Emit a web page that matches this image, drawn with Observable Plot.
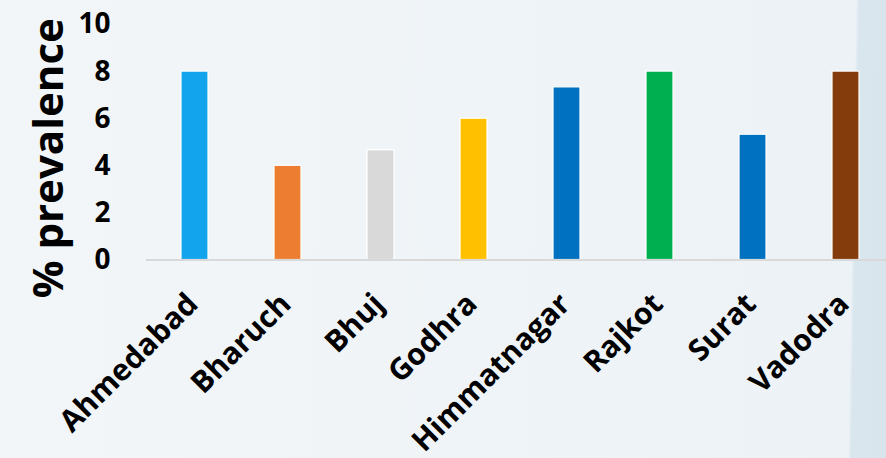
<!DOCTYPE html>
<html><head><meta charset="utf-8">
<script src="https://cdn.jsdelivr.net/npm/d3@7"></script>
<script src="https://cdn.jsdelivr.net/npm/@observablehq/plot@0.6"></script>
<style>
html,body{margin:0;padding:0;width:886px;height:458px;overflow:hidden;}
body{background: linear-gradient(91deg, #f2f6f9 0px, #edf2f6 856px, #d9e6ee 859px, #d8e5ed 893px);}
#chart svg{display:block;}
</style></head><body><div id="chart"></div>
<script>
const cities = ["Ahmedabad", "Bharuch", "Bhuj", "Godhra", "Himmatnagar", "Rajkot", "Surat", "Vadodra"];
const prevalence = [8, 4, 4.66, 6, 7.33, 8, 5.32, 8];
const barColors = ["#12A4EC", "#ED7D31", "#D9D9D9", "#FFC000", "#0070C0", "#00B050", "#0070C0", "#843C0C"];
const yTicks = [0, 2, 4, 6, 8, 10];
const yTitle = "% prevalence";

const data = cities.map((c, i) => ({city: c, value: prevalence[i]}));

const plot = Plot.plot({
  width: 886, height: 458,
  marginTop: 24, marginBottom: 198.5, marginLeft: 146, marginRight: 0,
  style: {background: "transparent", fontFamily: "'Open Sans', sans-serif", overflow: "visible", color: "#000"},
  x: {domain: cities, range: [146, 895], paddingInner: 0.708, paddingOuter: 0.356, label: null},
  y: {domain: [0, 10], label: null},
  color: {domain: cities, range: barColors},
  marks: [
    Plot.barY(data, {x: "city", y: "value", fill: "city", stroke: "white", strokeWidth: 1.2}),
    Plot.ruleY([0], {stroke: "#d9d9d9", strokeWidth: 2}),
    Plot.axisY({ticks: yTicks, tickSize: 0, tickPadding: 36, fontSize: 28, fontWeight: "bold", label: null}),
    Plot.axisX({tickSize: 0, tickPadding: 39, tickRotate: -45, dx: -2, fontSize: 30, fontWeight: "bold", label: null}),
    Plot.text([yTitle], {frameAnchor: "left", textAnchor: "middle", rotate: -90, dx: -97, dy: 16, fontSize: 42, fontWeight: "bold", fill: "#000"})
  ]
});
document.getElementById("chart").appendChild(plot);
</script></body></html>
